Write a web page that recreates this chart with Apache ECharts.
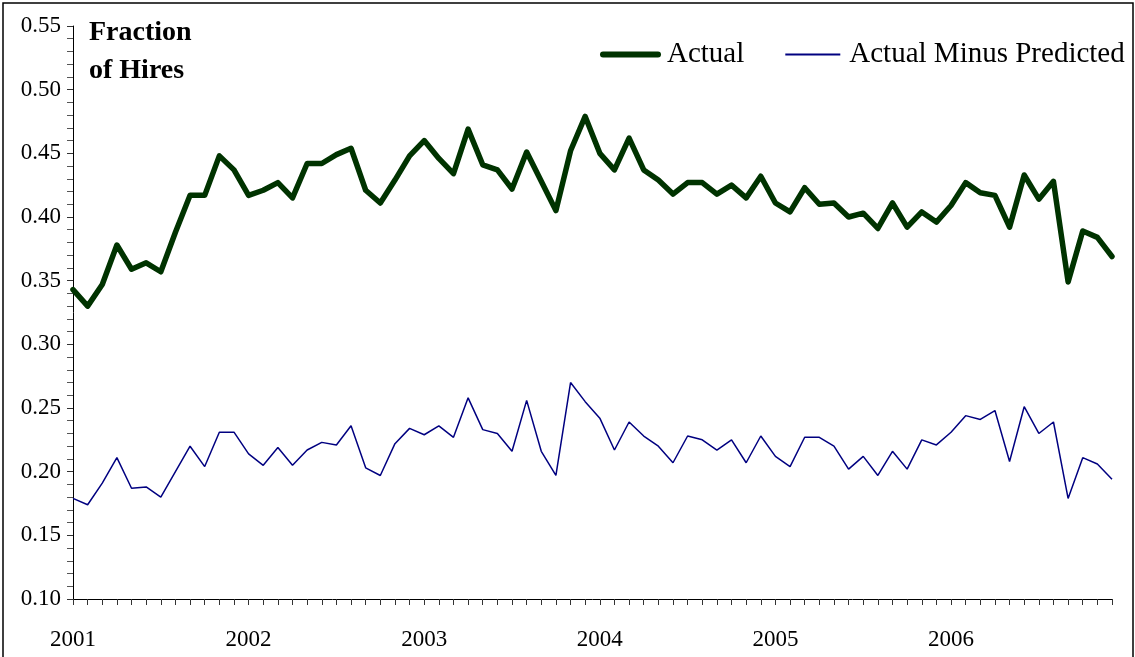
<!DOCTYPE html>
<html>
<head>
<meta charset="utf-8">
<script src="https://cdn.jsdelivr.net/npm/echarts@6/dist/echarts.min.js"></script>
<style>
html,body{margin:0;padding:0;background:#fff;}
#chart{width:1135px;height:657px;}
</style>
</head>
<body>
<div id="chart"></div>
<script>
// ---- data ----
var years = ['2001', '2002', '2003', '2004', '2005', '2006'];
var monthsPerYear = ['01','02','03','04','05','06','07','08','09','10','11','12'];
var categories = [];
years.forEach(function (y) { monthsPerYear.forEach(function (m) { categories.push(y + '-' + m); }); });

var actual2001 = [0.343, 0.330, 0.347, 0.378, 0.359, 0.364, 0.357, 0.388, 0.417, 0.417, 0.448, 0.437];
var actual2002 = [0.417, 0.421, 0.427, 0.415, 0.442, 0.442, 0.449, 0.454, 0.421, 0.411, 0.429, 0.448];
var actual2003 = [0.460, 0.446, 0.434, 0.469, 0.441, 0.437, 0.422, 0.451, 0.428, 0.405, 0.452, 0.479];
var actual2004 = [0.450, 0.437, 0.462, 0.437, 0.429, 0.418, 0.427, 0.427, 0.418, 0.425, 0.415, 0.432];
var actual2005 = [0.411, 0.404, 0.423, 0.410, 0.411, 0.400, 0.403, 0.391, 0.411, 0.392, 0.404, 0.396];
var actual2006 = [0.409, 0.427, 0.419, 0.417, 0.392, 0.433, 0.414, 0.428, 0.349, 0.389, 0.384, 0.369];

var minus2001 = [0.179, 0.174, 0.191, 0.211, 0.187, 0.188, 0.180, 0.200, 0.220, 0.204, 0.231, 0.231];
var minus2002 = [0.214, 0.205, 0.219, 0.205, 0.217, 0.223, 0.221, 0.236, 0.203, 0.197, 0.222, 0.234];
var minus2003 = [0.229, 0.236, 0.227, 0.258, 0.233, 0.230, 0.216, 0.256, 0.216, 0.197, 0.270, 0.255];
var minus2004 = [0.242, 0.217, 0.239, 0.228, 0.220, 0.207, 0.228, 0.225, 0.217, 0.225, 0.207, 0.228];
var minus2005 = [0.212, 0.204, 0.227, 0.227, 0.220, 0.202, 0.212, 0.197, 0.216, 0.202, 0.225, 0.221];
var minus2006 = [0.231, 0.244, 0.241, 0.248, 0.208, 0.251, 0.230, 0.239, 0.179, 0.211, 0.206, 0.194];

var actual = [].concat(actual2001, actual2002, actual2003, actual2004, actual2005, actual2006);
var actualMinusPredicted = [].concat(minus2001, minus2002, minus2003, minus2004, minus2005, minus2006);

var yTicks = { min: 0.10, max: 0.55, step: 0.05 };

// ---- chart ----
var chart = echarts.init(document.getElementById('chart'), null, { renderer: 'canvas' });
var serif = '"Liberation Serif", "Times New Roman", serif';

chart.setOption({
  backgroundColor: '#fff',
  animation: false,
  textStyle: { fontFamily: serif, color: '#000' },
  grid: { left: 73, right: 23, top: 26, bottom: 58, containLabel: false },
  title: {
    text: 'Fraction\nof Hires',
    left: 84, top: 9,
    textStyle: { fontFamily: serif, fontWeight: 'bold', fontSize: 28, lineHeight: 38, color: '#000' }
  },
  legend: {
    left: 600, top: 40, padding: 0,
    itemWidth: 55, itemHeight: 14, itemGap: 40,
    textStyle: { fontFamily: serif, fontSize: 29, color: '#000', padding: [0, 0, 0, 4] },
    itemStyle: { opacity: 0 },
    data: [
      { name: 'Actual', itemStyle: { opacity: 0 }, lineStyle: { color: '#003300', width: 6, cap: 'round' } },
      { name: 'Actual Minus Predicted', itemStyle: { opacity: 0 }, lineStyle: { color: '#000080', width: 2 } }
    ]
  },
  graphic: [{
    type: 'rect', silent: true,
    shape: { x: 3, y: 3, width: 1130, height: 700 },
    style: { fill: 'none', stroke: '#000', lineWidth: 1.5 }
  }],
  xAxis: {
    type: 'category',
    data: categories,
    boundaryGap: false,
    axisLine: { lineStyle: { color: '#000', width: 1 } },
    axisTick: { show: true, interval: 0, length: 6, lineStyle: { color: '#333' } },
    axisLabel: {
      interval: function (i, v) { return v.slice(5) === '01'; },
      formatter: function (v) { return v.slice(0, 4); },
      fontFamily: serif, fontSize: 23, color: '#000', margin: 29
    },
    splitLine: { show: false }
  },
  yAxis: {
    type: 'value',
    min: yTicks.min, max: yTicks.max, interval: yTicks.step,
    axisLine: { show: true, lineStyle: { color: '#000', width: 1 } },
    axisTick: { show: true, length: 6, lineStyle: { color: '#333' } },
    minorTick: { show: true, splitNumber: 5, length: 6, lineStyle: { color: '#555' } },
    axisLabel: {
      formatter: function (v) { return v.toFixed(2); },
      fontFamily: serif, fontSize: 23, color: '#000', margin: 12
    },
    splitLine: { show: false },
    minorSplitLine: { show: false }
  },
  series: [
    {
      name: 'Actual', type: 'line', data: actual,
      symbol: 'none', smooth: false,
      lineStyle: { color: '#003300', width: 5.5, cap: 'round', join: 'round' },
      itemStyle: { color: '#003300' }
    },
    {
      name: 'Actual Minus Predicted', type: 'line', data: actualMinusPredicted,
      symbol: 'none', smooth: false,
      lineStyle: { color: '#000080', width: 1.5 },
      itemStyle: { color: '#000080' }
    }
  ]
});
</script>
</body>
</html>
